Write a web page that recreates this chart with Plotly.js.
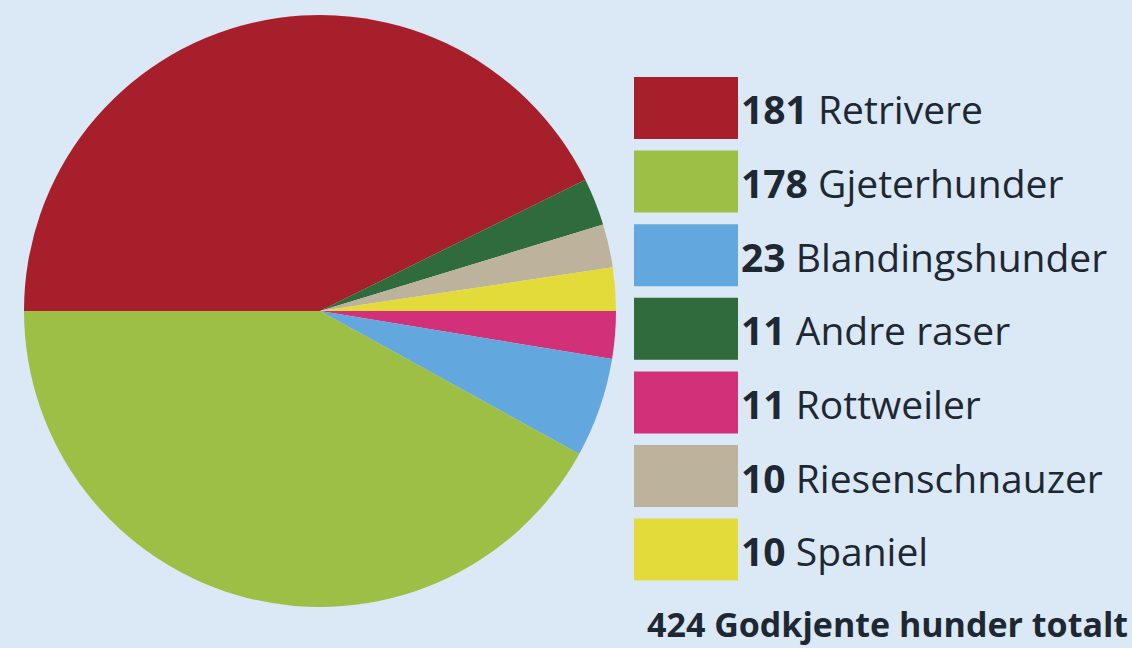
<!DOCTYPE html>
<html>
<head>
<meta charset="utf-8">
<script src="https://cdn.plot.ly/plotly-3.0.1.min.js"></script>
<style>
html,body{margin:0;padding:0;background:#dbe8f5;}
#chart{width:1132px;height:648px;}
</style>
</head>
<body>
<div id="chart"></div>
<script>
// Data (legend order)
const labels = ["Retrivere", "Gjeterhunder", "Blandingshunder", "Andre raser", "Rottweiler", "Riesenschnauzer", "Spaniel"];
const values = [181, 178, 23, 11, 11, 10, 10];
const colors = ["#a61f2b", "#9dbf45", "#62a7de", "#2f6b3b", "#d2317a", "#bdb39c", "#e3db3a"];
// Clockwise order of slices starting at 9 o'clock
const pieOrder = ["Retrivere", "Andre raser", "Riesenschnauzer", "Spaniel", "Rottweiler", "Blandingshunder", "Gjeterhunder"];
const totalLabel = "Godkjente hunder totalt";

const W = 1132, H = 648;
const px = x => x / W;
const py = y => 1 - y / H;

const pieIdx = pieOrder.map(l => labels.indexOf(l));
const trace = {
  type: "pie",
  labels: pieIdx.map(i => labels[i]),
  values: pieIdx.map(i => values[i]),
  marker: {colors: pieIdx.map(i => colors[i]), line: {width: 0}},
  sort: false,
  direction: "clockwise",
  rotation: 270,
  textinfo: "none",
  hoverinfo: "label+value",
  domain: {x: [px(24), px(616)], y: [py(607), py(15)]}
};

const FONT = "'Open Sans', Lato, sans-serif";
const shapes = [];
const annotations = [];
const rowTop0 = 77, rowStep = 73.6, boxH = 62;
labels.forEach((lab, i) => {
  const top = rowTop0 + i * rowStep;
  shapes.push({
    type: "rect", xref: "paper", yref: "paper",
    x0: px(634), x1: px(738), y0: py(top + boxH), y1: py(top),
    fillcolor: colors[i], line: {width: 0}, layer: "above"
  });
  annotations.push({
    xref: "paper", yref: "paper",
    x: px(739), y: py(top + boxH / 2 + 1),
    xanchor: "left", yanchor: "middle", showarrow: false,
    text: "<b>" + values[i] + "</b> " + lab,
    font: {family: FONT, size: 39, color: "#1e2833"}
  });
});
const total = values.reduce((a, b) => a + b, 0);
annotations.push({
  xref: "paper", yref: "paper",
  x: px(1130), y: py(624),
  xanchor: "right", yanchor: "middle", showarrow: false,
  text: "<b>" + total + " " + totalLabel + "</b>",
  font: {family: FONT, size: 34, color: "#1e2833"}
});

const layout = {
  width: W, height: H,
  margin: {l: 0, r: 0, t: 0, b: 0},
  paper_bgcolor: "#dbe8f5",
  plot_bgcolor: "#dbe8f5",
  showlegend: false,
  shapes: shapes,
  annotations: annotations
};

Plotly.newPlot("chart", [trace], layout, {displayModeBar: false, staticPlot: true});
</script>
</body>
</html>
